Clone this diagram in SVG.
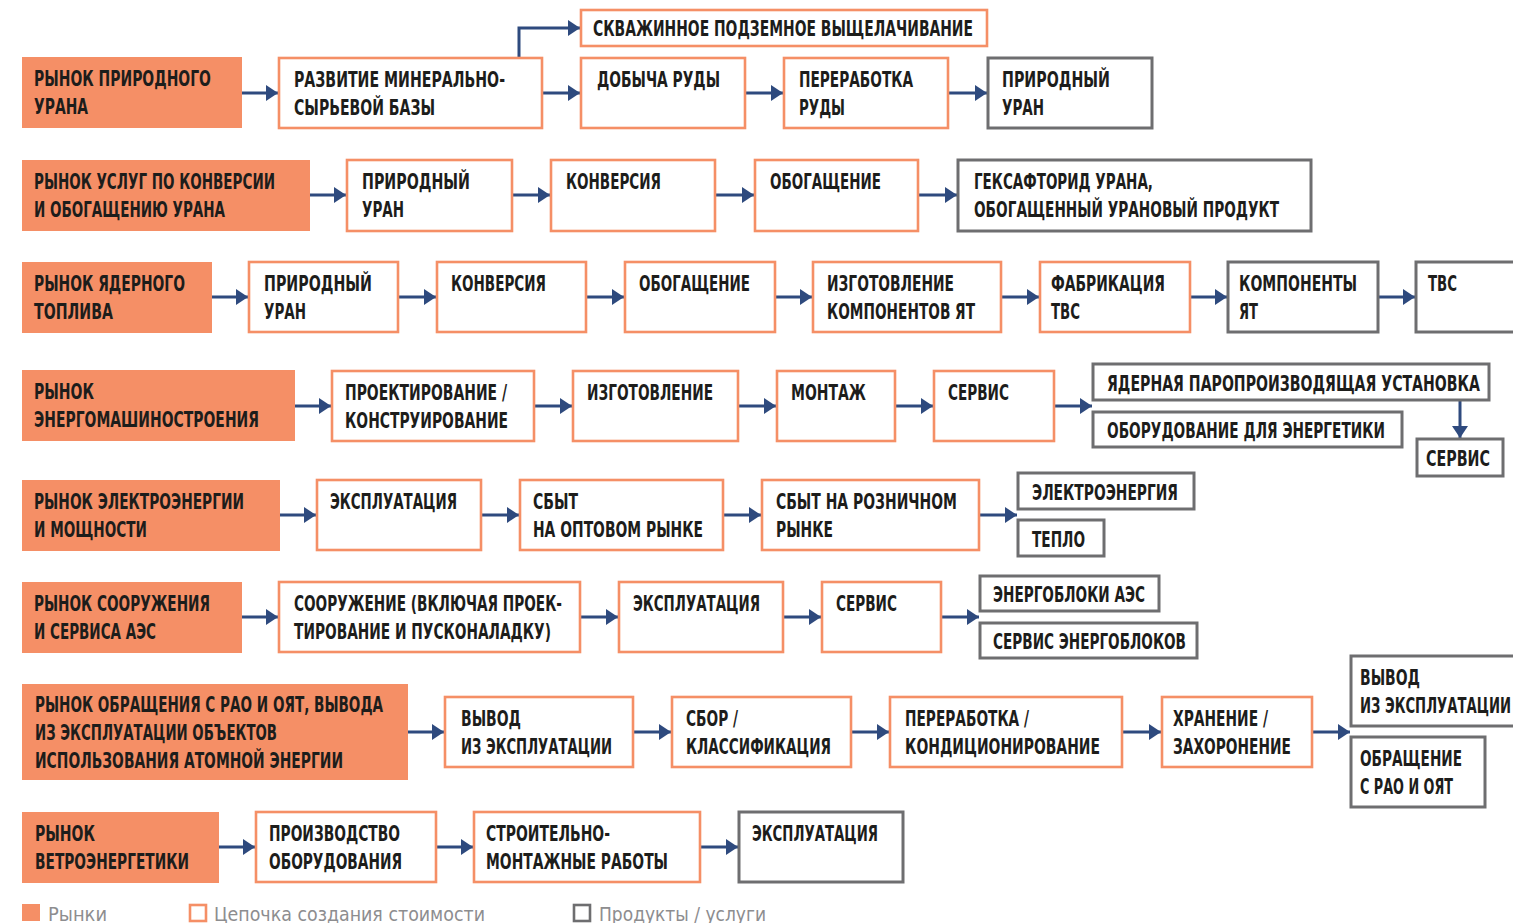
<svg xmlns="http://www.w3.org/2000/svg" width="1513" height="923" viewBox="0 0 1513 923">
<style>
.m{fill:#F58F66}
.c{fill:#fff;stroke:#F58F66;stroke-width:2.6}
.p{fill:#fff;stroke:#6e6e70;stroke-width:3}
text{font-family:"DejaVu Sans Condensed","Liberation Sans Narrow","Roboto Condensed","Liberation Sans",sans-serif;font-weight:bold;font-size:21.5px;fill:#1d1d1b}
text.l{font-family:"Liberation Sans Narrow","DejaVu Sans Condensed",sans-serif;font-weight:normal;font-size:20px;fill:#8d8d8f}
.a{fill:none;stroke:#2E4A7E;stroke-width:3;marker-end:url(#ah)}
</style>
<defs>
<marker id="ah" markerUnits="userSpaceOnUse" markerWidth="13" markerHeight="17" refX="12" refY="8" orient="auto">
<path d="M0,0 L12,8 L0,16 Z" fill="#2E4A7E"/>
</marker>
</defs>
<rect width="1513" height="923" fill="#fff"/>

<g id="connectors">
<path class="a" d="M242,93 H278"/>
<path class="a" d="M542,93 H580"/>
<path class="a" d="M745,93 H783"/>
<path class="a" d="M948,93 H987"/>
<path class="a" d="M519,57 V28 H580"/>
<path class="a" d="M310,195 H346"/>
<path class="a" d="M512,195 H550"/>
<path class="a" d="M715,195 H754"/>
<path class="a" d="M918,195 H957"/>
<path class="a" d="M212,297 H248"/>
<path class="a" d="M398,297 H436"/>
<path class="a" d="M586,297 H624"/>
<path class="a" d="M775,297 H812"/>
<path class="a" d="M1001,297 H1039"/>
<path class="a" d="M1190,297 H1227"/>
<path class="a" d="M1378,297 H1415"/>
<path class="a" d="M295,406 H331"/>
<path class="a" d="M534,406 H572"/>
<path class="a" d="M738,406 H776"/>
<path class="a" d="M895,406 H933"/>
<path class="a" d="M1054,406 H1092"/>
<path class="a" d="M1460,401 V438"/>
<path class="a" d="M280,515 H316"/>
<path class="a" d="M481,515 H519"/>
<path class="a" d="M723,515 H761"/>
<path class="a" d="M979,515 H1017"/>
<path class="a" d="M242,617 H278"/>
<path class="a" d="M580,617 H618"/>
<path class="a" d="M783,617 H821"/>
<path class="a" d="M941,617 H979"/>
<path class="a" d="M408,732 H444"/>
<path class="a" d="M633,732 H671"/>
<path class="a" d="M851,732 H889"/>
<path class="a" d="M1122,732 H1161"/>
<path class="a" d="M1312,732 H1350"/>
<path class="a" d="M219,847 H255"/>
<path class="a" d="M436,847 H473"/>
<path class="a" d="M700,847 H738"/>
</g>

<!-- Row 1 -->
<g id="m1"><rect class="m" x="22" y="57" width="220" height="71"/>
<text x="34" y="86" textLength="177" lengthAdjust="spacingAndGlyphs">РЫНОК ПРИРОДНОГО</text>
<text x="34" y="114" textLength="54" lengthAdjust="spacingAndGlyphs">УРАНА</text></g>
<g id="r1a"><rect class="c" x="279" y="58" width="263" height="70"/>
<text x="294" y="87" textLength="211" lengthAdjust="spacingAndGlyphs">РАЗВИТИЕ МИНЕРАЛЬНО-</text>
<text x="294" y="115" textLength="141" lengthAdjust="spacingAndGlyphs">СЫРЬЕВОЙ БАЗЫ</text></g>
<g id="r1b"><rect class="c" x="581" y="10" width="406" height="36"/>
<text x="593" y="36" textLength="380" lengthAdjust="spacingAndGlyphs">СКВАЖИННОЕ ПОДЗЕМНОЕ ВЫЩЕЛАЧИВАНИЕ</text></g>
<g id="r1c"><rect class="c" x="581" y="58" width="164" height="70"/>
<text x="597" y="87" textLength="123" lengthAdjust="spacingAndGlyphs">ДОБЫЧА РУДЫ</text></g>
<g id="r1d"><rect class="c" x="784" y="58" width="164" height="70"/>
<text x="799" y="87" textLength="114" lengthAdjust="spacingAndGlyphs">ПЕРЕРАБОТКА</text>
<text x="799" y="115" textLength="46" lengthAdjust="spacingAndGlyphs">РУДЫ</text></g>
<g id="r1e"><rect class="p" x="988" y="58" width="164" height="70"/>
<text x="1002" y="87" textLength="108" lengthAdjust="spacingAndGlyphs">ПРИРОДНЫЙ</text>
<text x="1002" y="115" textLength="42" lengthAdjust="spacingAndGlyphs">УРАН</text></g>

<!-- Row 2 -->
<g id="m2"><rect class="m" x="22" y="160" width="288" height="71"/>
<text x="34" y="189" textLength="241" lengthAdjust="spacingAndGlyphs">РЫНОК УСЛУГ ПО КОНВЕРСИИ</text>
<text x="34" y="217" textLength="191" lengthAdjust="spacingAndGlyphs">И ОБОГАЩЕНИЮ УРАНА</text></g>
<g id="r2a"><rect class="c" x="347" y="160" width="165" height="71"/>
<text x="362" y="189" textLength="108" lengthAdjust="spacingAndGlyphs">ПРИРОДНЫЙ</text>
<text x="362" y="217" textLength="42" lengthAdjust="spacingAndGlyphs">УРАН</text></g>
<g id="r2b"><rect class="c" x="551" y="160" width="164" height="71"/>
<text x="566" y="189" textLength="95" lengthAdjust="spacingAndGlyphs">КОНВЕРСИЯ</text></g>
<g id="r2c"><rect class="c" x="755" y="160" width="163" height="71"/>
<text x="770" y="189" textLength="111" lengthAdjust="spacingAndGlyphs">ОБОГАЩЕНИЕ</text></g>
<g id="r2d"><rect class="p" x="958" y="160" width="353" height="71"/>
<text x="974" y="189" textLength="179" lengthAdjust="spacingAndGlyphs">ГЕКСАФТОРИД УРАНА,</text>
<text x="974" y="217" textLength="305" lengthAdjust="spacingAndGlyphs">ОБОГАЩЕННЫЙ УРАНОВЫЙ ПРОДУКТ</text></g>

<!-- Row 3 -->
<g id="m3"><rect class="m" x="22" y="262" width="190" height="71"/>
<text x="34" y="291" textLength="151" lengthAdjust="spacingAndGlyphs">РЫНОК ЯДЕРНОГО</text>
<text x="34" y="319" textLength="79" lengthAdjust="spacingAndGlyphs">ТОПЛИВА</text></g>
<g id="r3a"><rect class="c" x="249" y="262" width="149" height="70"/>
<text x="264" y="291" textLength="108" lengthAdjust="spacingAndGlyphs">ПРИРОДНЫЙ</text>
<text x="264" y="319" textLength="42" lengthAdjust="spacingAndGlyphs">УРАН</text></g>
<g id="r3b"><rect class="c" x="437" y="262" width="149" height="70"/>
<text x="451" y="291" textLength="95" lengthAdjust="spacingAndGlyphs">КОНВЕРСИЯ</text></g>
<g id="r3c"><rect class="c" x="625" y="262" width="150" height="70"/>
<text x="639" y="291" textLength="111" lengthAdjust="spacingAndGlyphs">ОБОГАЩЕНИЕ</text></g>
<g id="r3d"><rect class="c" x="813" y="262" width="188" height="70"/>
<text x="827" y="291" textLength="127" lengthAdjust="spacingAndGlyphs">ИЗГОТОВЛЕНИЕ</text>
<text x="827" y="319" textLength="148" lengthAdjust="spacingAndGlyphs">КОМПОНЕНТОВ ЯТ</text></g>
<g id="r3e"><rect class="c" x="1040" y="262" width="150" height="70"/>
<text x="1051" y="291" textLength="114" lengthAdjust="spacingAndGlyphs">ФАБРИКАЦИЯ</text>
<text x="1051" y="319" textLength="29" lengthAdjust="spacingAndGlyphs">ТВС</text></g>
<g id="r3f"><rect class="p" x="1228" y="262" width="150" height="70"/>
<text x="1239" y="291" textLength="118" lengthAdjust="spacingAndGlyphs">КОМПОНЕНТЫ</text>
<text x="1239" y="319" textLength="19" lengthAdjust="spacingAndGlyphs">ЯТ</text></g>
<g id="r3g"><rect class="p" x="1416" y="262" width="110" height="70"/>
<text x="1428" y="291" textLength="29" lengthAdjust="spacingAndGlyphs">ТВС</text></g>

<!-- Row 4 -->
<g id="m4"><rect class="m" x="22" y="370" width="273" height="71"/>
<text x="34" y="399" textLength="60" lengthAdjust="spacingAndGlyphs">РЫНОК</text>
<text x="34" y="427" textLength="225" lengthAdjust="spacingAndGlyphs">ЭНЕРГОМАШИНОСТРОЕНИЯ</text></g>
<g id="r4a"><rect class="c" x="332" y="371" width="202" height="70"/>
<text x="345" y="400" textLength="162" lengthAdjust="spacingAndGlyphs">ПРОЕКТИРОВАНИЕ /</text>
<text x="345" y="428" textLength="163" lengthAdjust="spacingAndGlyphs">КОНСТРУИРОВАНИЕ</text></g>
<g id="r4b"><rect class="c" x="573" y="371" width="165" height="70"/>
<text x="587" y="400" textLength="126" lengthAdjust="spacingAndGlyphs">ИЗГОТОВЛЕНИЕ</text></g>
<g id="r4c"><rect class="c" x="777" y="371" width="118" height="70"/>
<text x="791" y="400" textLength="75" lengthAdjust="spacingAndGlyphs">МОНТАЖ</text></g>
<g id="r4d"><rect class="c" x="934" y="371" width="120" height="70"/>
<text x="948" y="400" textLength="61" lengthAdjust="spacingAndGlyphs">СЕРВИС</text></g>
<g id="r4e"><rect class="p" x="1093" y="364" width="396" height="36"/>
<text x="1107" y="391" textLength="373" lengthAdjust="spacingAndGlyphs">ЯДЕРНАЯ ПАРОПРОИЗВОДЯЩАЯ УСТАНОВКА</text></g>
<g id="r4f"><rect class="p" x="1093" y="412" width="309" height="35"/>
<text x="1107" y="438" textLength="278" lengthAdjust="spacingAndGlyphs">ОБОРУДОВАНИЕ ДЛЯ ЭНЕРГЕТИКИ</text></g>
<g id="r4g"><rect class="p" x="1417" y="439" width="86" height="37"/>
<text x="1426" y="466" textLength="64" lengthAdjust="spacingAndGlyphs">СЕРВИС</text></g>

<!-- Row 5 -->
<g id="m5"><rect class="m" x="22" y="480" width="258" height="71"/>
<text x="34" y="509" textLength="210" lengthAdjust="spacingAndGlyphs">РЫНОК ЭЛЕКТРОЭНЕРГИИ</text>
<text x="34" y="537" textLength="113" lengthAdjust="spacingAndGlyphs">И МОЩНОСТИ</text></g>
<g id="r5a"><rect class="c" x="317" y="480" width="164" height="70"/>
<text x="330" y="509" textLength="127" lengthAdjust="spacingAndGlyphs">ЭКСПЛУАТАЦИЯ</text></g>
<g id="r5b"><rect class="c" x="520" y="480" width="203" height="70"/>
<text x="533" y="509" textLength="45" lengthAdjust="spacingAndGlyphs">СБЫТ</text>
<text x="533" y="537" textLength="170" lengthAdjust="spacingAndGlyphs">НА ОПТОВОМ РЫНКЕ</text></g>
<g id="r5c"><rect class="c" x="762" y="480" width="217" height="70"/>
<text x="776" y="509" textLength="181" lengthAdjust="spacingAndGlyphs">СБЫТ НА РОЗНИЧНОМ</text>
<text x="776" y="537" textLength="57" lengthAdjust="spacingAndGlyphs">РЫНКЕ</text></g>
<g id="r5d"><rect class="p" x="1018" y="473" width="176" height="36"/>
<text x="1032" y="500" textLength="146" lengthAdjust="spacingAndGlyphs">ЭЛЕКТРОЭНЕРГИЯ</text></g>
<g id="r5e"><rect class="p" x="1018" y="520" width="86" height="36"/>
<text x="1032" y="547" textLength="53" lengthAdjust="spacingAndGlyphs">ТЕПЛО</text></g>

<!-- Row 6 -->
<g id="m6"><rect class="m" x="22" y="582" width="220" height="71"/>
<text x="34" y="611" textLength="176" lengthAdjust="spacingAndGlyphs">РЫНОК СООРУЖЕНИЯ</text>
<text x="34" y="639" textLength="122" lengthAdjust="spacingAndGlyphs">И СЕРВИСА АЭС</text></g>
<g id="r6a"><rect class="c" x="279" y="582" width="301" height="70"/>
<text x="294" y="611" textLength="268" lengthAdjust="spacingAndGlyphs">СООРУЖЕНИЕ (ВКЛЮЧАЯ ПРОЕК-</text>
<text x="294" y="639" textLength="257" lengthAdjust="spacingAndGlyphs">ТИРОВАНИЕ И ПУСКОНАЛАДКУ)</text></g>
<g id="r6b"><rect class="c" x="619" y="582" width="164" height="70"/>
<text x="633" y="611" textLength="127" lengthAdjust="spacingAndGlyphs">ЭКСПЛУАТАЦИЯ</text></g>
<g id="r6c"><rect class="c" x="822" y="582" width="119" height="70"/>
<text x="836" y="611" textLength="61" lengthAdjust="spacingAndGlyphs">СЕРВИС</text></g>
<g id="r6d"><rect class="p" x="980" y="576" width="179" height="35"/>
<text x="993" y="602" textLength="152" lengthAdjust="spacingAndGlyphs">ЭНЕРГОБЛОКИ АЭС</text></g>
<g id="r6e"><rect class="p" x="980" y="623" width="217" height="35"/>
<text x="993" y="649" textLength="193" lengthAdjust="spacingAndGlyphs">СЕРВИС ЭНЕРГОБЛОКОВ</text></g>

<!-- Row 7 -->
<g id="m7"><rect class="m" x="22" y="684" width="386" height="96"/>
<text x="35" y="712" textLength="348" lengthAdjust="spacingAndGlyphs">РЫНОК  ОБРАЩЕНИЯ С РАО И ОЯТ, ВЫВОДА</text>
<text x="35" y="740" textLength="242" lengthAdjust="spacingAndGlyphs">ИЗ ЭКСПЛУАТАЦИИ ОБЪЕКТОВ</text>
<text x="35" y="768" textLength="308" lengthAdjust="spacingAndGlyphs">ИСПОЛЬЗОВАНИЯ АТОМНОЙ ЭНЕРГИИ</text></g>
<g id="r7a"><rect class="c" x="445" y="697" width="188" height="70"/>
<text x="461" y="726" textLength="60" lengthAdjust="spacingAndGlyphs">ВЫВОД</text>
<text x="461" y="754" textLength="151" lengthAdjust="spacingAndGlyphs">ИЗ ЭКСПЛУАТАЦИИ</text></g>
<g id="r7b"><rect class="c" x="672" y="697" width="179" height="70"/>
<text x="686" y="726" textLength="52" lengthAdjust="spacingAndGlyphs">СБОР /</text>
<text x="686" y="754" textLength="145" lengthAdjust="spacingAndGlyphs">КЛАССИФИКАЦИЯ</text></g>
<g id="r7c"><rect class="c" x="890" y="697" width="232" height="70"/>
<text x="905" y="726" textLength="124" lengthAdjust="spacingAndGlyphs">ПЕРЕРАБОТКА /</text>
<text x="905" y="754" textLength="195" lengthAdjust="spacingAndGlyphs">КОНДИЦИОНИРОВАНИЕ</text></g>
<g id="r7d"><rect class="c" x="1162" y="697" width="150" height="70"/>
<text x="1173" y="726" textLength="95" lengthAdjust="spacingAndGlyphs">ХРАНЕНИЕ /</text>
<text x="1173" y="754" textLength="118" lengthAdjust="spacingAndGlyphs">ЗАХОРОНЕНИЕ</text></g>
<g id="r7e"><rect class="p" x="1351" y="656" width="172" height="70"/>
<text x="1360" y="685" textLength="60" lengthAdjust="spacingAndGlyphs">ВЫВОД</text>
<text x="1360" y="713" textLength="151" lengthAdjust="spacingAndGlyphs">ИЗ ЭКСПЛУАТАЦИИ</text></g>
<g id="r7f"><rect class="p" x="1351" y="737" width="134" height="70"/>
<text x="1360" y="766" textLength="102" lengthAdjust="spacingAndGlyphs">ОБРАЩЕНИЕ</text>
<text x="1360" y="794" textLength="93" lengthAdjust="spacingAndGlyphs">С РАО И ОЯТ</text></g>

<!-- Row 8 -->
<g id="m8"><rect class="m" x="22" y="812" width="197" height="71"/>
<text x="35" y="841" textLength="60" lengthAdjust="spacingAndGlyphs">РЫНОК</text>
<text x="35" y="869" textLength="154" lengthAdjust="spacingAndGlyphs">ВЕТРОЭНЕРГЕТИКИ</text></g>
<g id="r8a"><rect class="c" x="256" y="812" width="180" height="70"/>
<text x="269" y="841" textLength="131" lengthAdjust="spacingAndGlyphs">ПРОИЗВОДСТВО</text>
<text x="269" y="869" textLength="133" lengthAdjust="spacingAndGlyphs">ОБОРУДОВАНИЯ</text></g>
<g id="r8b"><rect class="c" x="474" y="812" width="226" height="70"/>
<text x="486" y="841" textLength="124" lengthAdjust="spacingAndGlyphs">СТРОИТЕЛЬНО-</text>
<text x="486" y="869" textLength="182" lengthAdjust="spacingAndGlyphs">МОНТАЖНЫЕ РАБОТЫ</text></g>
<g id="r8c"><rect class="p" x="739" y="812" width="164" height="70"/>
<text x="752" y="841" textLength="126" lengthAdjust="spacingAndGlyphs">ЭКСПЛУАТАЦИЯ</text></g>

<!-- Legend -->
<g id="legend">
<rect class="m" x="22" y="904" width="18" height="17"/>
<text class="l" x="48" y="921" textLength="59" lengthAdjust="spacingAndGlyphs">Рынки</text>
<rect x="190" y="905" width="16" height="16" fill="none" stroke="#F58F66" stroke-width="2.6"/>
<text class="l" x="214" y="921" textLength="271" lengthAdjust="spacingAndGlyphs">Цепочка создания стоимости</text>
<rect x="574" y="905" width="16" height="16" fill="none" stroke="#6e6e70" stroke-width="2.6"/>
<text class="l" x="599" y="921" textLength="167" lengthAdjust="spacingAndGlyphs">Продукты / услуги</text>
</g>
</svg>
